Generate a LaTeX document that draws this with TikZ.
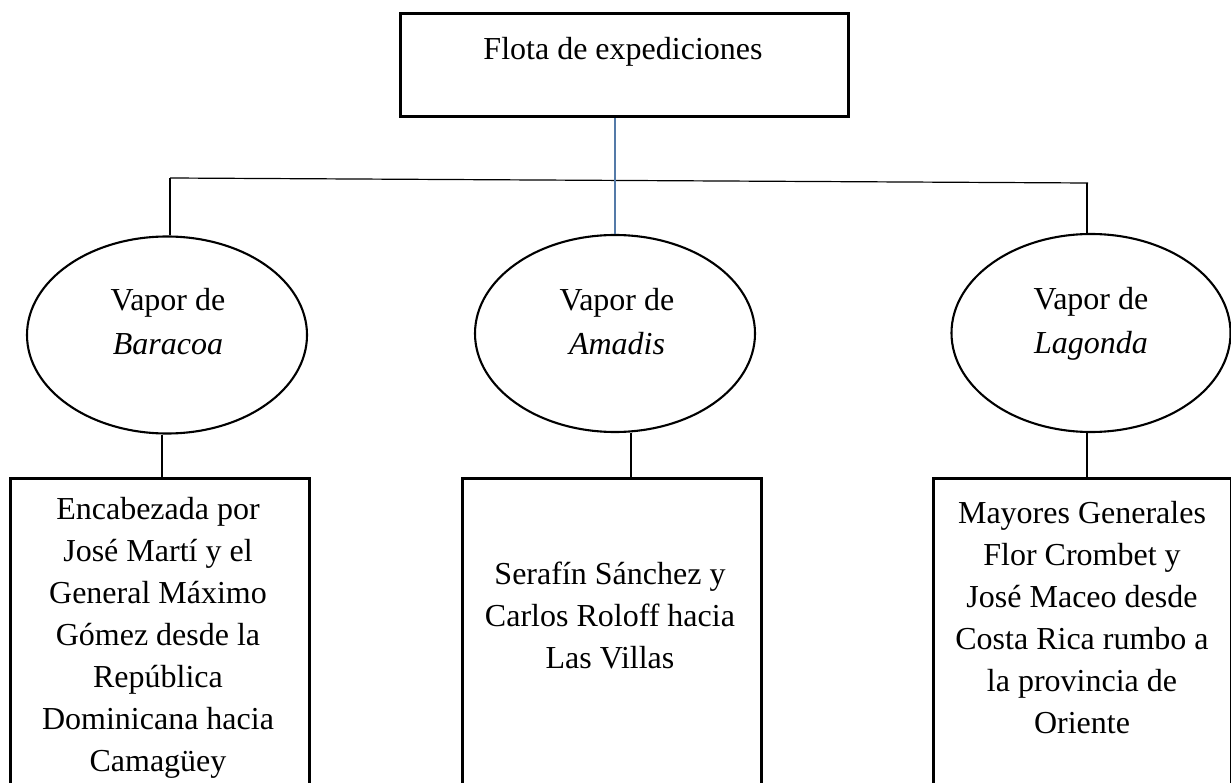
\documentclass[tikz,border=0pt]{standalone}
\usepackage{fontspec}
\setmainfont{Liberation Serif}
\usetikzlibrary{shapes.geometric,calc}
\definecolor{linkblue}{RGB}{84,122,168}
\begin{document}
\begin{tikzpicture}[x=1pt,y=-1pt,
  boxshape/.style={draw=black,line width=2.8pt,rectangle,inner sep=0pt,anchor=north west},
  oval/.style={draw=black,line width=2.1pt,ellipse,inner sep=0pt},
  txt/.style={font=\fontsize{32}{42}\selectfont,align=center,inner sep=0pt},
  ovaltxt/.style={font=\fontsize{32}{44}\selectfont,align=center,inner sep=0pt},
  link/.style={draw=black,line width=1.2pt},
  bluelink/.style={draw=linkblue,line width=1.6pt}]
\useasboundingbox (0,0) rectangle (1231,783);
\clip (0,0) rectangle (1231,783);
% top box
\node[boxshape,minimum width=448pt,minimum height=103pt] (top) at (399,12) {};
\node[txt,anchor=base] (toptxt) at (623,60) {Flota de expediciones};
% ellipses
\node[oval,minimum width=280pt,minimum height=197pt] (e1) at (167,335) {};
\node[oval,minimum width=280pt,minimum height=197pt] (e2) at (615,333.5) {};
\node[oval,minimum width=279pt,minimum height=198pt] (e3) at (1091,333) {};
\node[ovaltxt] (e1t) at (168,321.5) {Vapor de\\\textit{Baracoa}};
\node[ovaltxt] (e2t) at (617,322) {Vapor de\\\textit{Amadis}};
\node[ovaltxt] (e3t) at (1091,324) {Vapor de\\\textit{Lagonda}};
% bottom boxes
\node[boxshape,minimum width=299pt,minimum height=340pt] (b1) at (9,477) {};
\node[boxshape,minimum width=299pt,minimum height=340pt] (b2) at (461,477) {};
\node[boxshape,minimum width=298pt,minimum height=340pt] (b3) at (932,477) {};
\node[txt] (b1t) at (158,638) {Encabezada por\\José Martí y el\\General Máximo\\Gómez desde la\\República\\Dominicana hacia\\Camagüey};
\node[txt] (b2t) at (610,615) {Serafín Sánchez y\\Carlos Roloff hacia\\Las Villas};
\node[txt] (b3t) at (1082,618) {Mayores Generales\\Flor Crombet y\\José Maceo desde\\Costa Rica rumbo a\\la provincia de\\Oriente};
% connectors
\coordinate (hl) at (170,178);
\coordinate (hr) at (1088,183);
\draw[link] (hl) -- (hr);
\draw[link] (hl) -- (hl |- e1.north);
\draw[link] ([xshift=-1pt]hr) -- ([xshift=-1pt]hr |- e3.north);
\draw[bluelink] (e2.north |- top.south) -- (e2.north);
\draw[link] ([xshift=-5pt]e1.south) -- ([xshift=-5pt]e1.south |- b1.north);
\draw[link] ([xshift=16pt]e2.south) -- ([xshift=16pt]e2.south |- b2.north);
\draw[link] ([xshift=-4pt]e3.south) -- ([xshift=-4pt]e3.south |- b3.north);
\end{tikzpicture}
\end{document}
